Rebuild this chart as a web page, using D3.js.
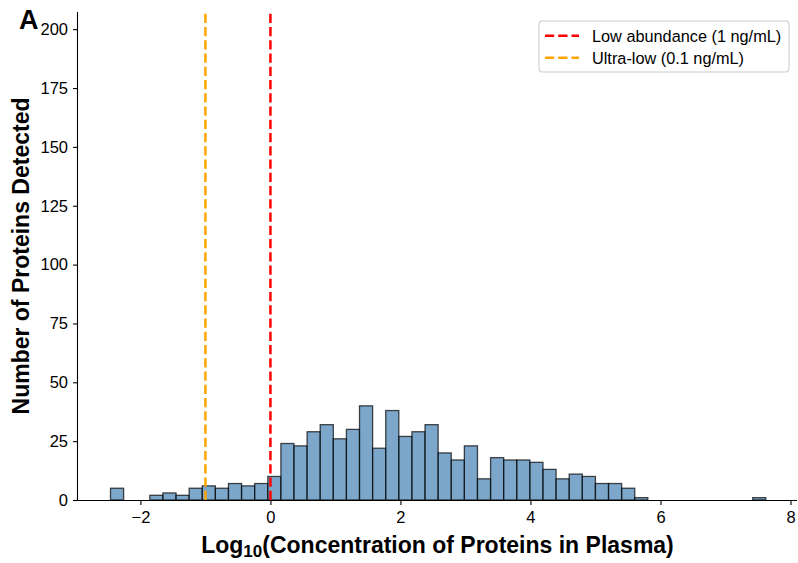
<!DOCTYPE html>
<html>
<head>
<meta charset="utf-8">
<script src="https://cdn.jsdelivr.net/npm/d3@7"></script>
<style>
body { margin: 0; background: #fff; }
svg { display: block; font-family: "Liberation Sans", Arial, sans-serif; }
</style>
</head>
<body>
<svg id="chart" width="798" height="563"></svg>
<script>
// ---- data ----
const binStart = -2.46;
const binWidth = 0.2016;
const counts = [5, 0, 0, 2, 3, 2, 5, 6, 5, 7, 6, 7, 10, 24, 23, 29, 32, 26, 30, 40,
                22, 38, 27, 29, 32, 20, 17, 23, 9, 18, 17, 17, 16, 13, 9, 11, 10, 7, 7, 5,
                1, 0, 0, 0, 0, 0, 0, 0, 0, 1];
const xTicks = [-2, 0, 2, 4, 6, 8];
const yTicks = [0, 25, 50, 75, 100, 125, 150, 175, 200];
const refLines = [
  { value: 0, color: "red", label: "Low abundance (1 ng/mL)" },
  { value: -1, color: "orange", label: "Ultra-low (0.1 ng/mL)" }
];

(function () {
const bins = counts.map((c, i) => ({ x0: binStart + i * binWidth, x1: binStart + (i + 1) * binWidth, count: c }));

const svg = d3.select("#chart");
const mLeft = 78, mRight = 797, mTop = 12, mBottom = 500;

const x = d3.scaleLinear().domain([-2.96, 8.10]).range([mLeft, mRight]);
const y = d3.scaleLinear().domain([0, 207.3]).range([mBottom, mTop]);

// bars
svg.append("g").selectAll("rect").data(bins.filter(b => b.count > 0)).join("rect")
  .attr("x", d => x(d.x0))
  .attr("width", d => x(d.x1) - x(d.x0))
  .attr("y", d => y(d.count))
  .attr("height", d => y(0) - y(d.count))
  .attr("fill", "steelblue")
  .attr("fill-opacity", 0.7)
  .attr("stroke", "#000")
  .attr("stroke-opacity", 0.7)
  .attr("stroke-width", 1.3);

// reference lines
svg.append("g").selectAll("line").data(refLines).join("line")
  .attr("x1", d => x(d.value)).attr("x2", d => x(d.value))
  .attr("y1", mBottom).attr("y2", mTop)
  .attr("stroke", d => d.color)
  .attr("stroke-width", 2.5)
  .attr("stroke-dasharray", "9.25,4");

// axes
const xAxis = svg.append("g").attr("transform", `translate(0,${mBottom})`)
  .call(d3.axisBottom(x).tickValues(xTicks).tickSize(5).tickPadding(6)
    .tickFormat(d => d < 0 ? "\u2212" + Math.abs(d) : d));
const yAxis = svg.append("g").attr("transform", `translate(${mLeft},0)`)
  .call(d3.axisLeft(y).tickValues(yTicks).tickSize(5).tickPadding(5));

[xAxis, yAxis].forEach(a => {
  a.select(".domain").attr("stroke", "#000").attr("stroke-width", 1.1);
  a.selectAll(".tick line").attr("stroke", "#000").attr("stroke-width", 1.1);
  a.selectAll(".tick text").attr("font-size", 16.5).attr("fill", "#000")
    .attr("font-family", '"Liberation Sans", Arial, sans-serif');
});
xAxis.select(".domain").attr("d", `M${mLeft},0.5H${mRight}`);
yAxis.select(".domain").attr("d", `M-0.5,${mBottom}V${mTop}`);

// axis labels
const xl = svg.append("text")
  .attr("x", (mLeft + mRight) / 2).attr("y", 553)
  .attr("text-anchor", "middle")
  .attr("font-size", 23).attr("font-weight", "bold");
xl.append("tspan").text("Log");
xl.append("tspan").attr("font-size", 17).attr("dy", 4).text("10");
xl.append("tspan").attr("dy", -4).text("(Concentration of Proteins in Plasma)");

svg.append("text")
  .attr("transform", `translate(29,${(mTop + mBottom) / 2}) rotate(-90)`)
  .attr("text-anchor", "middle")
  .attr("font-size", 23).attr("font-weight", "bold")
  .text("Number of Proteins Detected");

// panel letter
svg.append("text").attr("x", 19).attr("y", 29)
  .attr("font-size", 27).attr("font-weight", "bold").text("A");

// legend
const lg = svg.append("g");
lg.append("rect").attr("x", 539).attr("y", 21).attr("width", 250).attr("height", 51)
  .attr("rx", 3.5).attr("fill", "#fff").attr("fill-opacity", 0.8)
  .attr("stroke", "#cccccc").attr("stroke-width", 1.1);
refLines.forEach((d, i) => {
  const cy = 35.7 + i * 22;
  lg.append("line").attr("x1", 545).attr("x2", 579).attr("y1", cy).attr("y2", cy)
    .attr("stroke", d.color).attr("stroke-width", 2.5).attr("stroke-dasharray", "9.25,4");
  lg.append("text").attr("x", 592).attr("y", cy).attr("dy", "0.36em")
    .attr("font-size", 16.3).text(d.label);
});
})();
</script>
</body>
</html>
